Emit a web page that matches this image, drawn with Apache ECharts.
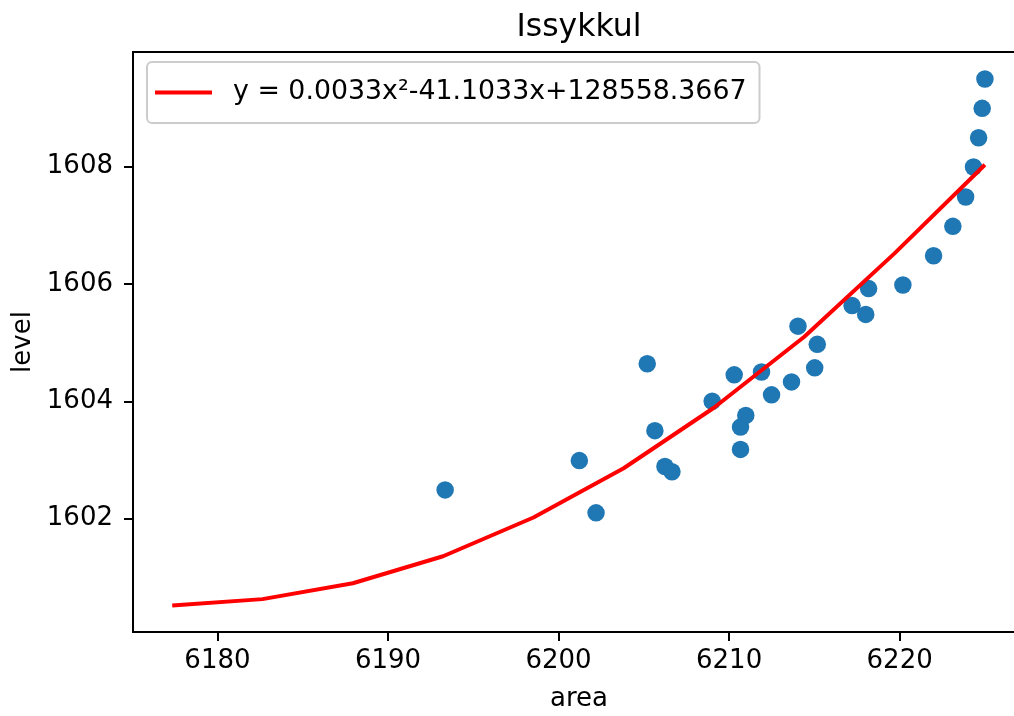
<!DOCTYPE html>
<html>
<head>
<meta charset="utf-8">
<script src="https://cdn.jsdelivr.net/npm/echarts@6/dist/echarts.min.js"></script>
<style>
  html, body { margin: 0; padding: 0; background: #ffffff; }
  #chart { width: 1014px; height: 716px; }
</style>
</head>
<body>
<div id="chart"></div>
<script>
// Observed lake surface area vs. water level
const areaValues = [
  6193.35, 6201.22, 6202.20, 6205.20, 6205.65, 6206.24, 6206.65, 6209.01,
  6210.30, 6210.98, 6210.67, 6210.67, 6211.90, 6212.49, 6213.66, 6214.04,
  6215.02, 6215.17, 6217.21, 6218.01, 6218.18, 6220.19, 6221.99, 6223.12,
  6223.87, 6224.33, 6224.63, 6224.84, 6225.00
];
const levelValues = [
  1602.49, 1602.99, 1602.10, 1604.64, 1603.50, 1602.89, 1602.80, 1604.00,
  1604.45, 1603.76, 1603.56, 1603.18, 1604.50, 1604.11, 1604.33, 1605.28,
  1604.57, 1604.97, 1605.63, 1605.48, 1605.92, 1605.98, 1606.48, 1606.98,
  1607.48, 1607.99, 1608.49, 1608.99, 1609.49
];

// Quadratic fit, sampled along the area range
const fitArea = [
  6177.35, 6182.64, 6187.94, 6193.23, 6198.53, 6203.82, 6209.11, 6214.41,
  6219.70, 6225.00
];
const fitLevel = [
  1600.52, 1600.63, 1600.90, 1601.36, 1602.02, 1602.86, 1603.89, 1605.10,
  1606.52, 1608.03
];
const fitLabel = 'y = 0.0033x²-41.1033x+128558.3667';

const xTicks = [6180, 6190, 6200, 6210, 6220];
const yTicks = [1602, 1604, 1606, 1608];

const FONT = 'DejaVu Sans';
const INK = '#000000';

const chart = echarts.init(document.getElementById('chart'), null, { renderer: 'canvas' });

chart.setOption({
  animation: false,
  backgroundColor: '#ffffff',
  title: {
    text: 'Issykkul',
    left: 579,
    top: 12,
    textAlign: 'center',
    padding: 0,
    textStyle: { fontFamily: FONT, fontSize: 31.5, fontWeight: 'normal', color: INK }
  },
  legend: {
    data: [{ name: fitLabel, icon: 'rect' }],
    left: 147,
    top: 62,
    orient: 'vertical',
    padding: [17, 13, 17, 8],
    itemWidth: 57,
    itemHeight: 4,
    selectedMode: false,
    backgroundColor: 'rgba(255,255,255,0.8)',
    borderColor: '#cccccc',
    borderWidth: 2,
    borderRadius: 5,
    textStyle: { fontFamily: FONT, fontSize: 26.8, color: INK, padding: [0, 0, 0, 16] }
  },
  grid: {
    left: 133,
    top: 52,
    width: 892,
    height: 580,
    containLabel: false,
    outerBoundsMode: 'none',
    show: true,
    borderColor: INK,
    borderWidth: 2,
    backgroundColor: 'transparent'
  },
  xAxis: {
    type: 'value',
    min: 6175.05,
    max: 6227.35,
    name: 'area',
    nameLocation: 'middle',
    nameGap: 54,
    nameTextStyle: { fontFamily: FONT, fontSize: 26, color: INK },
    splitLine: { show: false },
    axisLine: { show: true, onZero: false, lineStyle: { color: INK, width: 2 } },
    axisTick: { show: true, length: 9, inside: false, customValues: xTicks, lineStyle: { color: INK, width: 2 } },
    axisLabel: {
      margin: 16, customValues: xTicks, fontFamily: FONT, fontSize: 26, color: INK,
      formatter: v => String(v)
    }
  },
  yAxis: {
    type: 'value',
    min: 1600.07,
    max: 1609.95,
    name: 'level',
    nameLocation: 'middle',
    nameGap: 94,
    nameTextStyle: { fontFamily: FONT, fontSize: 26, color: INK },
    splitLine: { show: false },
    axisLine: { show: true, onZero: false, lineStyle: { color: INK, width: 2 } },
    axisTick: { show: true, length: 9, inside: false, customValues: yTicks, lineStyle: { color: INK, width: 2 } },
    axisLabel: {
      margin: 20, customValues: yTicks, fontFamily: FONT, fontSize: 26, color: INK,
      formatter: v => String(v)
    }
  },
  series: [
    {
      name: 'observed',
      type: 'scatter',
      symbol: 'circle',
      symbolSize: 17.5,
      itemStyle: { color: '#1f77b4', opacity: 1 },
      data: areaValues.map((a, i) => [a, levelValues[i]]),
      z: 2
    },
    {
      name: fitLabel,
      type: 'line',
      showSymbol: false,
      symbol: 'none',
      lineStyle: { color: '#ff0000', width: 4 },
      itemStyle: { color: '#ff0000' },
      data: fitArea.map((a, i) => [a, fitLevel[i]]),
      z: 3
    }
  ]
});
</script>
</body>
</html>
